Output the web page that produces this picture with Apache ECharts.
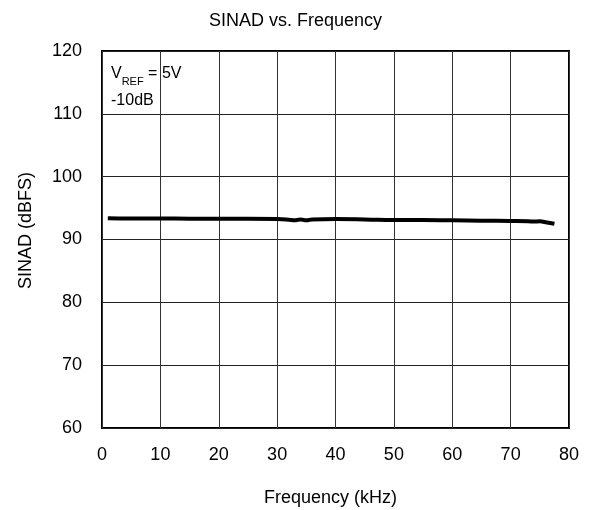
<!DOCTYPE html>
<html><head><meta charset="utf-8">
<script src="https://cdn.jsdelivr.net/npm/echarts@6/dist/echarts.min.js"></script>
<style>html,body{margin:0;padding:0;background:#fff}#c{width:597px;height:510px}</style>
</head><body><div id="c"></div>
<script>
const freqKHz = [1,5,10,15,20,25,30,32,33,34,35,36,40,45,50,55,60,65,70,73,74,75,76,77.5];
const sinadDBFS = [93.4,93.35,93.35,93.3,93.3,93.3,93.25,93.15,93.05,93.2,93.05,93.2,93.25,93.2,93.1,93.1,93.05,93.0,92.95,92.9,92.85,92.9,92.75,92.5];
const xTicks = [0,10,20,30,40,50,60,70,80];
const yTicks = [60,70,80,90,100,110,120];
const font = 'Liberation Sans, Arial, sans-serif';
const chart = echarts.init(document.getElementById('c'), null, {renderer:'canvas'});
chart.setOption({
  animation:false,
  backgroundColor:'#fff',
  title:{text:'SINAD vs. Frequency',left:204,top:7,textStyle:{fontFamily:font,fontSize:18,fontWeight:'normal',color:'#000'}},
  grid:{left:102,right:28,top:51,bottom:82,show:true,borderColor:'#000',borderWidth:2,backgroundColor:'transparent',containLabel:false,outerBoundsMode:'none'},
  xAxis:{type:'value',min:xTicks[0],max:xTicks[xTicks.length-1],interval:10,
    name:'Frequency (kHz)',nameLocation:'middle',nameGap:61,
    nameTextStyle:{fontFamily:font,fontSize:18,color:'#000',padding:[0,10,0,0]},
    axisLine:{show:false},axisTick:{show:false},
    axisLabel:{fontFamily:font,fontSize:18,color:'#000',margin:18},
    splitLine:{show:true,lineStyle:{color:'#333',width:1}}},
  yAxis:{type:'value',min:yTicks[0],max:yTicks[yTicks.length-1],interval:10,
    name:'SINAD (dBFS)',nameLocation:'middle',nameGap:67,
    nameTextStyle:{fontFamily:font,fontSize:18,color:'#000',padding:[0,0,0,18]},
    axisLine:{show:false},axisTick:{show:false},
    axisLabel:{fontFamily:font,fontSize:18,color:'#000',margin:20},
    splitLine:{show:true,lineStyle:{color:'#222',width:1}}},
  series:[{type:'line',data:freqKHz.map((f,i)=>[f,sinadDBFS[i]]),showSymbol:false,smooth:true,
    lineStyle:{color:'#000',width:4}}],
  graphic:[{type:'text',left:111,top:66,style:{
    text:'{a|V}{s|REF}{a| = 5V}\n{a|-10dB}',
    rich:{a:{fontFamily:font,fontSize:16,color:'#000',lineHeight:27},
          s:{fontFamily:font,fontSize:11,color:'#000',verticalAlign:'bottom',padding:[7,0,0,0],lineHeight:27}},
    fill:'#000'}}]
});
</script></body></html>
